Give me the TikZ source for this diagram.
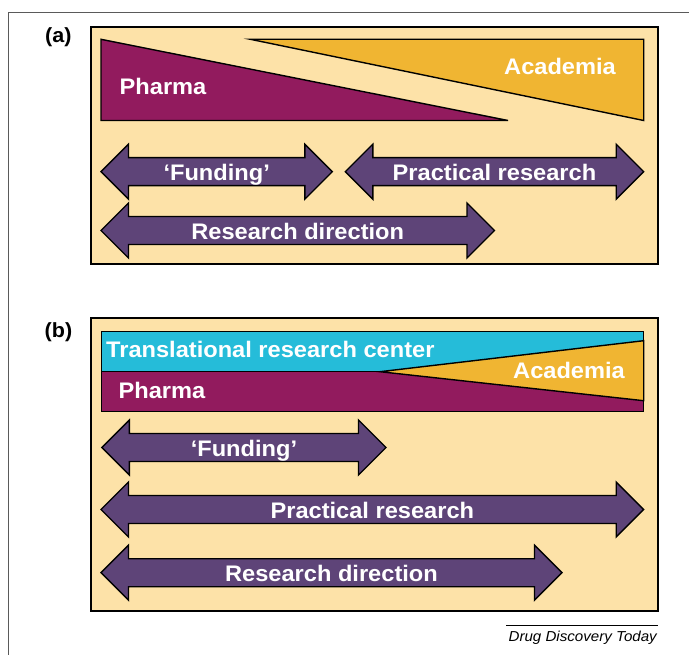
\documentclass[tikz,border=0pt]{standalone}
\usepackage{fontspec}
\setmainfont{Liberation Sans}[FakeStretch=1.05]
\definecolor{panelfill}{RGB}{253,226,168}
\definecolor{pharmacol}{RGB}{146,27,94}
\definecolor{academiacol}{RGB}{240,181,50}
\definecolor{trccol}{RGB}{37,188,217}
\definecolor{arrowcol}{RGB}{94,68,120}
\definecolor{framecol}{RGB}{90,90,90}

% two-headed block arrow with a centred label:
% #1 name, #2 left tip x, #3 right tip x, #4 centre y, #5 label
\newcommand{\blockarrow}[5]{%
  \draw[arrowbody] (#2,#4) -- ++(27.5,-27.5) -- ++(0,13.5)
    -- ({#3-27.5},{#4-14}) -- ++(0,-13.5) -- (#3,#4)
    -- ++(-27.5,27.5) -- ++(0,-13.5) -- ({#2+27.5},{#4+14})
    -- ++(0,13.5) -- cycle;
  \node[lbl, anchor=base] (#1) at ({(#2+#3)/2},{#4+8.7}) {#5};%
}

\begin{document}
\begin{tikzpicture}[x=1pt, y=-1pt,
  panel/.style={draw=black, line width=2pt, fill=panelfill},
  outline/.style={draw=black, line width=1.4pt, line join=miter},
  arrowbody/.style={outline, fill=arrowcol},
  lbl/.style={text=white, font=\fontsize{22.5}{22.5}\selectfont\bfseries, inner sep=0pt},
  tag/.style={font=\fontsize{20.5}{20.5}\selectfont\bfseries, inner sep=0pt, anchor=base west},
  inlbl/.style={lbl, anchor=base west}]
\useasboundingbox (0,0) rectangle (689,655);

% page frame
\draw[framecol, line width=0.8pt] (689,12.3) -- (8,12.3) -- (8,655);

% ---------------- panel (a) ----------------
\node[tag] (taga) at (45,43) {(a)};
\draw[panel] (91,26.7) rectangle (657.7,264);
\draw[outline, fill=pharmacol] (101,39.3) -- (101,120.5) -- (508,120.5) -- cycle;
\draw[outline, fill=academiacol] (250.4,39.3) -- (643.7,39.3) -- (643.7,120.5) -- cycle;
\node[inlbl] (pharmaa) at (119.5,95) {Pharma};
\node[inlbl] (academiaa) at (504,74.5) {Academia};

\blockarrow{fundinga}{101}{332.3}{171.7}{‘Funding’}
\blockarrow{practicala}{345.3}{643.7}{171.7}{Practical research}
\blockarrow{directiona}{101}{494.5}{230.5}{Research direction}

% ---------------- panel (b) ----------------
\node[tag] (tagb) at (44.5,337.5) {(b)};
\draw[panel] (91.4,318.3) rectangle (657.7,610.7);
\draw[outline, fill=trccol] (101.5,331.7) rectangle (643.7,371.7);
\draw[outline, fill=pharmacol] (101.5,371.7) rectangle (643.7,411.7);
\draw[outline, fill=academiacol] (380,371.7) -- (643.7,340.7) -- (643.7,400.7) -- cycle;
\node[inlbl] (trc) at (106,357.7) {Translational research center};
\node[inlbl] (academiab) at (513,379) {Academia};
\node[inlbl] (pharmab) at (118.4,398.3) {Pharma};

\blockarrow{fundingb}{101.8}{386}{447.5}{‘Funding’}
\blockarrow{practicalb}{101}{643.7}{509.5}{Practical research}
\blockarrow{directionb}{101}{562}{572.7}{Research direction}

% source line
\coordinate (rulel) at (506,625.5);
\coordinate (ruler) at (658,625.5);
\draw[line width=0.8pt] (rulel) -- (ruler);
\node[anchor=base east, inner sep=0pt, font=\fontsize{14.4}{14.4}\selectfont\itshape] (source) at (657,641.5) {Drug Discovery Today};
\end{tikzpicture}
\end{document}
